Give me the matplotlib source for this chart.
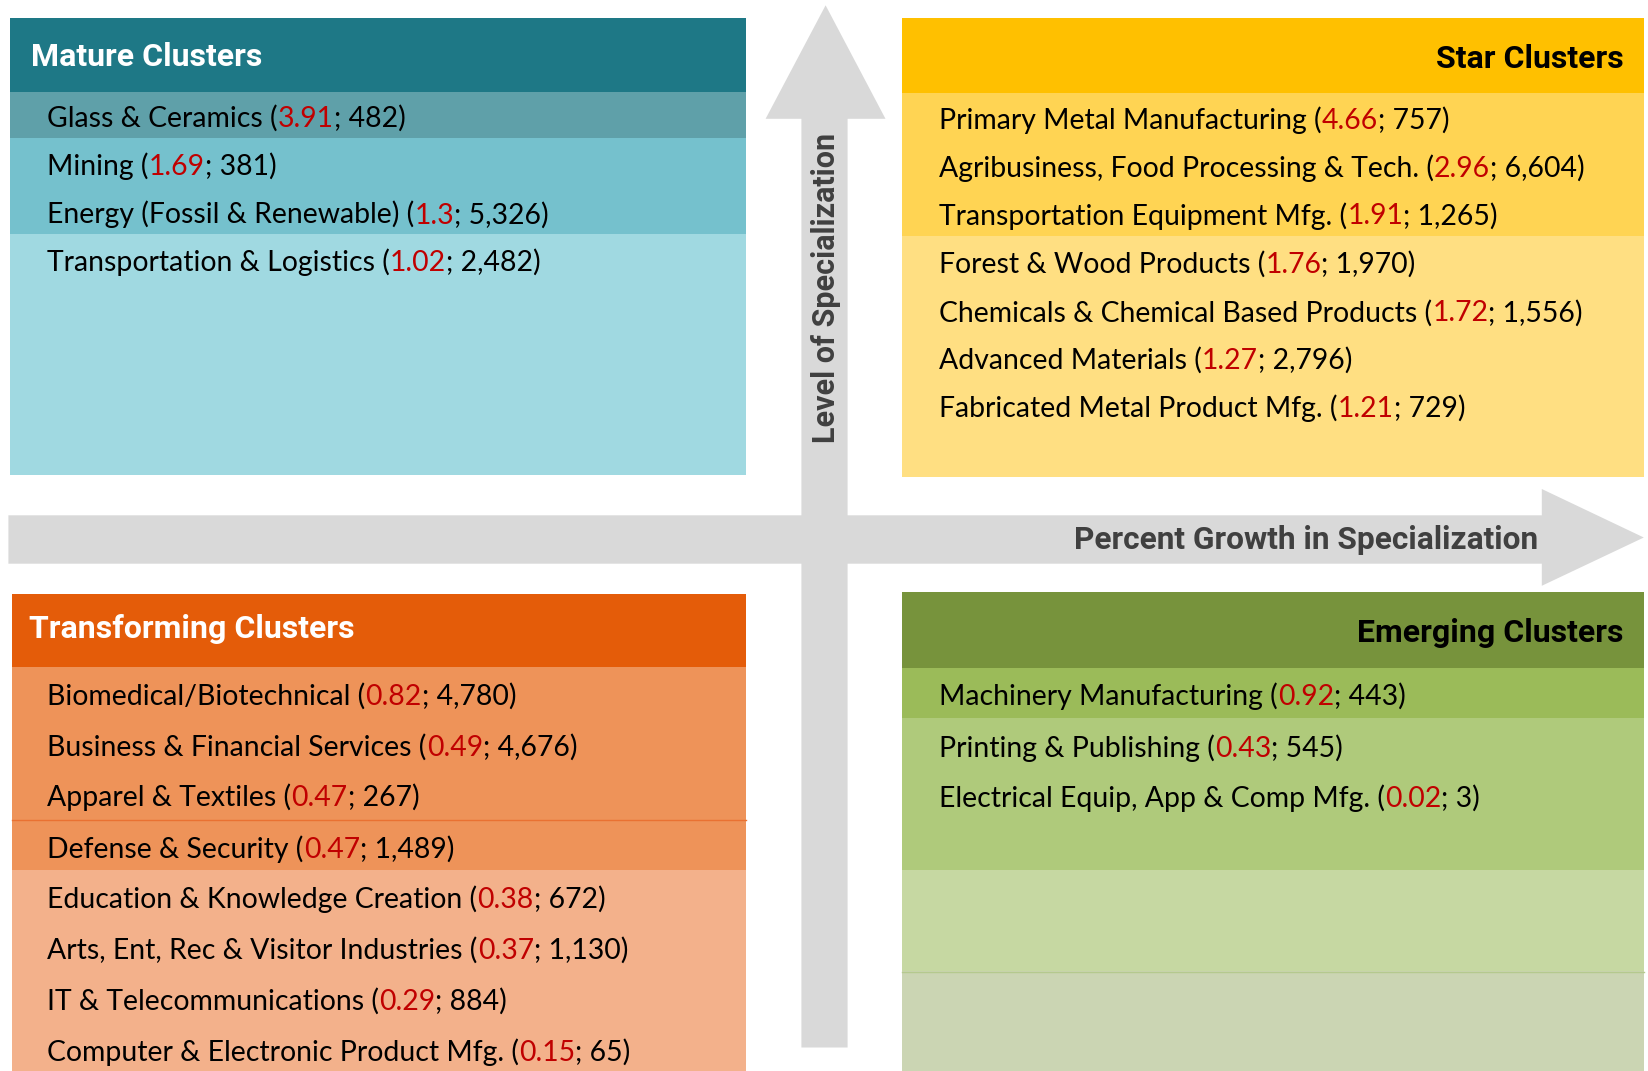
import matplotlib
matplotlib.use('Agg')
import matplotlib.pyplot as plt
from matplotlib.patches import Rectangle, Polygon

W, H = 1649, 1071

# cluster data: name, location quotient (red), employment
mature_names = ["Glass & Ceramics", "Mining", "Energy (Fossil & Renewable)", "Transportation & Logistics"]
mature_lq = [3.91, 1.69, 1.3, 1.02]
mature_jobs = [482, 381, 5326, 2482]

star_names = ["Primary Metal Manufacturing", "Agribusiness, Food Processing & Tech.",
              "Transportation Equipment Mfg.", "Forest & Wood Products",
              "Chemicals & Chemical Based Products", "Advanced Materials",
              "Fabricated Metal Product Mfg."]
star_lq = [4.66, 2.96, 1.91, 1.76, 1.72, 1.27, 1.21]
star_jobs = [757, 6604, 1265, 1970, 1556, 2796, 729]

trans_names = ["Biomedical/Biotechnical", "Business & Financial Services", "Apparel & Textiles",
               "Defense & Security", "Education & Knowledge Creation",
               "Arts, Ent, Rec & Visitor Industries", "IT & Telecommunications",
               "Computer & Electronic Product Mfg."]
trans_lq = [0.82, 0.49, 0.47, 0.47, 0.38, 0.37, 0.29, 0.15]
trans_jobs = [4780, 4676, 267, 1489, 672, 1130, 884, 65]

emerg_names = ["Machinery Manufacturing", "Printing & Publishing", "Electrical Equip, App & Comp Mfg."]
emerg_lq = [0.92, 0.43, 0.02]
emerg_jobs = [443, 545, 3]

BODY = ['Lato', 'DejaVu Sans']
TITLE = ['Roboto', 'DejaVu Sans']
RED = '#C00000'
GREY = '#D9D9D9'

fig = plt.figure(figsize=(W / 100, H / 100), dpi=100)
ax = fig.add_axes([0, 0, 1, 1])
ax.set_xlim(0, W)
ax.set_ylim(H, 0)
ax.axis('off')
renderer = fig.canvas.get_renderer()


def band(x0, x1, y0, y1, color):
    # small overlap so no seam shows between stacked bands
    ax.add_patch(Rectangle((x0, y0 - 0.6), x1 - x0, y1 - y0 + 1.2, facecolor=color,
                           edgecolor='none'))


def rich_line(x, y, name, lq, jobs, size=20.4):
    parts = [(name + " (", 'black'), (str(lq), RED), ("; " + f"{jobs:,}" + ")", 'black')]
    for s, c in parts:
        t = ax.text(x, y, s, color=c, fontsize=size, family=BODY, va='baseline', ha='left')
        bb = t.get_window_extent(renderer)
        x += bb.width


def rows(x, ys, names, lqs, jobs):
    for y, n, l, j in zip(ys, names, lqs, jobs):
        rich_line(x, y + 10, n, l, j)


# ---- Mature (top left)
band(10.5, 745.6, 18.9, 92.5, '#1E7886')
band(10.5, 745.6, 92.5, 138.8, '#5FA0A9')
band(10.5, 745.6, 138.8, 234.5, '#75C1CD')
band(10.5, 745.6, 234.5, 474.3, '#A0D9E1')
ax.text(31.5, 57, "Mature Clusters", color='white', fontsize=23, fontweight='bold',
        family=TITLE, va='center', ha='left')
rows(47.3, [116.7, 165.1, 213.5, 260.8], mature_names, mature_lq, mature_jobs)

# ---- Star (top right)
band(902.3, 1643.8, 18.9, 93.6, '#FFC000')
band(902.3, 1643.8, 93.6, 236.6, '#FFD453')
band(902.3, 1643.8, 236.6, 476.4, '#FFDF82')
ax.text(1623.8, 59, "Star Clusters", color='black', fontsize=23, fontweight='bold',
        family=TITLE, va='center', ha='right')
rows(939.1, [118.8, 167.2, 214.5, 262.9, 311.3, 358.6, 407.0], star_names, star_lq, star_jobs)

# ---- Transforming (bottom left)
band(11.6, 745.6, 594.2, 667.8, '#E45C09')
band(11.6, 745.6, 667.8, 870.8, '#EE9359')
band(11.6, 745.6, 870.8, 1071, '#F3B18B')
ax.plot([11.6, 745.6], [820.3, 820.3], color='#E97132', lw=1)
ax.text(29.4, 629, "Transforming Clusters", color='white', fontsize=23, fontweight='bold',
        family=TITLE, va='center', ha='left')
rows(47.3, [695.1, 745.6, 796.1, 847.6, 898.1, 948.6, 1000.1, 1050.6],
     trans_names, trans_lq, trans_jobs)

# ---- Emerging (bottom right)
band(902.3, 1643.8, 592.1, 668.9, '#77933C')
band(902.3, 1643.8, 668.9, 718.3, '#9BBB59')
band(902.3, 1643.8, 718.3, 870.8, '#AFCA7B')
band(902.3, 1643.8, 870.8, 971.7, '#C6D8A2')
band(902.3, 1643.8, 971.7, 1071, '#CBD5B3')
ax.plot([902.3, 1643.8], [971.7, 971.7], color='#B5C98E', lw=1)
ax.text(1623.8, 633, "Emerging Clusters", color='black', fontsize=23, fontweight='bold',
        family=TITLE, va='center', ha='right')
rows(939.1, [695.1, 746.7, 797.2], emerg_names, emerg_lq, emerg_jobs)

# ---- axes arrows
ax.add_patch(Polygon([(801.4, 1047.5), (801.4, 118.8), (765.6, 118.8), (825.6, 5.3),
                      (885.5, 118.8), (847.6, 118.8), (847.6, 1047.5)],
                     closed=True, facecolor=GREY, edgecolor='none'))
ax.add_patch(Polygon([(8.4, 515.3), (1541.8, 515.3), (1541.8, 489), (1643.8, 537.5),
                      (1541.8, 585.8), (1541.8, 563.7), (8.4, 563.7)],
                     closed=True, facecolor=GREY, edgecolor='none'))
ax.text(826, 288, "Level of Specialization", color='#404040', fontsize=22, fontweight='bold',
        family=TITLE, rotation=90, va='center', ha='center')
ax.text(1538.6, 540, "Percent Growth in Specialization", color='#404040', fontsize=22.8,
        fontweight='bold', family=TITLE, va='center', ha='right')

fig.savefig('out.png', dpi=100)
